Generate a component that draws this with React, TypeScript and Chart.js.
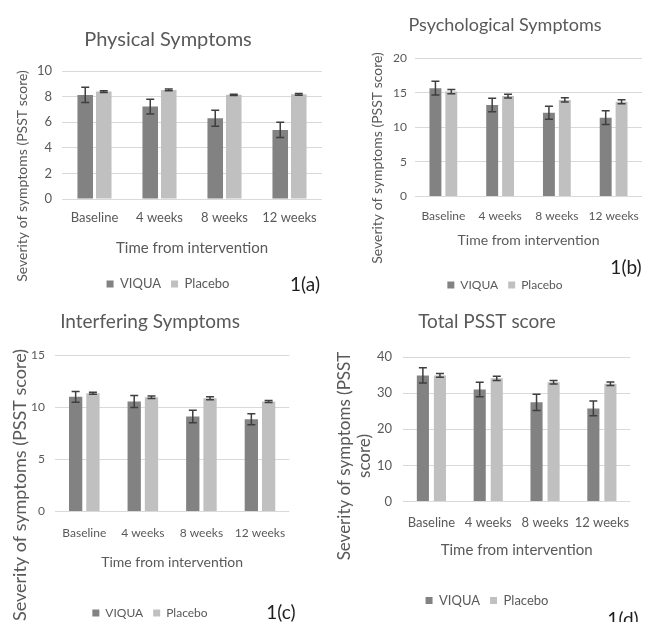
import { useEffect, useRef } from "react";
import { Chart, registerables } from "chart.js";

Chart.register(...registerables);

// ---------- data ----------
const categories = ["Baseline", "4 weeks", "8 weeks", "12 weeks"];
const seriesNames = ["VIQUA", "Placebo"];

const physicalViqua = [8.13, 7.22, 6.31, 5.4];
const physicalViquaErr = [0.6, 0.58, 0.62, 0.6];
const physicalPlacebo = [8.39, 8.52, 8.14, 8.18];
const physicalPlaceboErr = [0.06, 0.07, 0.05, 0.07];
const physicalTicks = [0, 2, 4, 6, 8, 10];

const psychViqua = [15.64, 13.2, 12.1, 11.38];
const psychViquaErr = [1.0, 0.97, 0.95, 1.0];
const psychPlacebo = [15.15, 14.5, 13.95, 13.68];
const psychPlaceboErr = [0.3, 0.28, 0.3, 0.3];
const psychTicks = [0, 5, 10, 15, 20];

const interfViqua = [10.99, 10.55, 9.1, 8.85];
const interfViquaErr = [0.52, 0.58, 0.6, 0.53];
const interfPlacebo = [11.33, 10.95, 10.85, 10.55];
const interfPlaceboErr = [0.1, 0.12, 0.14, 0.1];
const interfTicks = [0, 5, 10, 15];

const totalViqua = [34.9, 30.98, 27.44, 25.77];
const totalViquaErr = [2.1, 2.0, 2.25, 2.05];
const totalPlacebo = [34.9, 34.1, 33.0, 32.6];
const totalPlaceboErr = [0.5, 0.6, 0.5, 0.5];
const totalTicks = [0, 10, 20, 30, 40];

const titles = ["Physical Symptoms", "Psychological Symptoms", "Interfering Symptoms", "Total PSST score"];
const tags = ["1(a)", "1(b)", "1(c)", "1(d)"];
const yTitleOneLine = ["Severity of symptoms (PSST score)"];
const yTitleTwoLines = ["Severity of symptoms (PSST", "score)"];
const xTitleText = "Time from intervention";

// ---------- style ----------
const FONT = "Lato";
const TEXT = "#595959";
const VIQUA_COLOR = "#828282";
const PLACEBO_COLOR = "#c0c0c0";
const GRID = "#d9d9d9";
const ERR = "#3f3f3f";

Chart.defaults.font.family = FONT;
Chart.defaults.color = TEXT;

const errorBarPlugin = {
  id: "errorBars",
  afterDatasetsDraw(chart: any) {
    const { ctx } = chart;
    const yScale = chart.scales.y;
    chart.data.datasets.forEach((ds: any, i: number) => {
      const meta = chart.getDatasetMeta(i);
      if (!meta || meta.hidden) return;
      meta.data.forEach((bar: any, j: number) => {
        const v = ds.data[j];
        const e = ds.errors[j];
        const top = yScale.getPixelForValue(v + e);
        const bot = yScale.getPixelForValue(v - e);
        const x = bar.x;
        const cap = 4;
        ctx.save();
        ctx.strokeStyle = ERR;
        ctx.lineWidth = 1.5;
        ctx.beginPath();
        ctx.moveTo(x, top);
        ctx.lineTo(x, bot);
        ctx.moveTo(x - cap, top);
        ctx.lineTo(x + cap, top);
        ctx.moveTo(x - cap, bot);
        ctx.lineTo(x + cap, bot);
        ctx.stroke();
        ctx.restore();
      });
    });
  },
};

// panel tag ("1(a)") and rotated y-axis title, drawn as real canvas text
const panelTextPlugin = {
  id: "panelText",
  afterDraw(chart: any, _args: any, opts: any) {
    if (!opts) return;
    const { ctx } = chart;
    ctx.save();
    ctx.font = `${opts.tagSize}px ${FONT}`;
    ctx.fillStyle = "#1e1e1e";
    ctx.textAlign = "center";
    ctx.textBaseline = "middle";
    ctx.fillText(opts.tag, opts.tagX, opts.tagY);
    ctx.restore();

    const lines: string[] = opts.yTitle;
    ctx.save();
    ctx.font = `${opts.yTitleSize}px ${FONT}`;
    ctx.fillStyle = TEXT;
    ctx.textAlign = "center";
    ctx.textBaseline = "middle";
    lines.forEach((line, i) => {
      ctx.save();
      ctx.translate(opts.yTitleX + i * opts.yTitleSize * 1.15, opts.yTitleY);
      ctx.rotate(-Math.PI / 2);
      ctx.fillText(line, 0, 0);
      ctx.restore();
    });
    ctx.restore();
  },
};

type Panel = {
  left: number;
  top: number;
  width: number;
  height: number;
  title: string;
  titleSize: number;
  titlePad: { top: number; bottom: number };
  viqua: number[];
  viquaErr: number[];
  placebo: number[];
  placeboErr: number[];
  ticks: number[];
  yTitle: string[];
  yTitleSize: number;
  yTitleX: number;
  yTitleY: number;
  yWidth: number;
  yTickPad: number;
  rightWidth: number;
  xHeight: number;
  xTickPad: number;
  xTitleSize: number;
  xTitlePadBottom: number;
  tickSize: number;
  legendSize: number;
  padBottom: number;
  catPct: number;
  barPct: number;
  tag: string;
  tagX: number;
  tagY: number;
};

const panels: Panel[] = [
  {
    left: 0, top: 0, width: 336, height: 310,
    title: titles[0], titleSize: 20, titlePad: { top: 28, bottom: 19 },
    viqua: physicalViqua, viquaErr: physicalViquaErr, placebo: physicalPlacebo, placeboErr: physicalPlaceboErr,
    ticks: physicalTicks,
    yTitle: yTitleOneLine, yTitleSize: 14, yTitleX: 22, yTitleY: 176, yWidth: 62, yTickPad: 10, rightWidth: 14,
    xHeight: 68.5, xTickPad: 11, xTitleSize: 15, xTitlePadBottom: 10.5,
    tickSize: 13, legendSize: 13, padBottom: 9.5, catPct: 0.57, barPct: 0.84,
    tag: tags[0], tagX: 305, tagY: 285,
  },
  {
    left: 330, top: 0, width: 350, height: 310,
    title: titles[1], titleSize: 18, titlePad: { top: 14.2, bottom: 22.2 },
    viqua: psychViqua, viquaErr: psychViquaErr, placebo: psychPlacebo, placeboErr: psychPlaceboErr,
    ticks: psychTicks,
    yTitle: yTitleOneLine, yTitleSize: 14, yTitleX: 47, yTitleY: 158, yWidth: 85, yTickPad: 8, rightWidth: 38,
    xHeight: 72.5, xTickPad: 12, xTitleSize: 14, xTitlePadBottom: 20.1,
    tickSize: 12, legendSize: 12, padBottom: 9, catPct: 0.56, barPct: 0.75,
    tag: tags[1], tagX: 296, tagY: 268,
  },
  {
    left: 0, top: 310, width: 300, height: 330,
    title: titles[2], titleSize: 19, titlePad: { top: 0.6, bottom: 21.6 },
    viqua: interfViqua, viquaErr: interfViquaErr, placebo: interfPlacebo, placeboErr: interfPlaceboErr,
    ticks: interfTicks,
    yTitle: yTitleOneLine, yTitleSize: 18, yTitleX: 20, yTitleY: 175, yWidth: 55, yTickPad: 10, rightWidth: 7,
    xHeight: 85.5, xTickPad: 14, xTitleSize: 14, xTitlePadBottom: 26.1,
    tickSize: 12, legendSize: 12, padBottom: 11, catPct: 0.59, barPct: 0.77,
    tag: tags[2], tagX: 281, tagY: 303,
  },
  {
    left: 330, top: 310, width: 314, height: 330,
    title: titles[3], titleSize: 19, titlePad: { top: 0.6, bottom: 23.6 },
    viqua: totalViqua, viquaErr: totalViquaErr, placebo: totalPlacebo, placeboErr: totalPlaceboErr,
    ticks: totalTicks,
    yTitle: yTitleTwoLines, yTitleSize: 17, yTitleX: 15, yTitleY: 146, yWidth: 73, yTickPad: 11, rightWidth: 7,
    xHeight: 82.5, xTickPad: 14, xTitleSize: 15, xTitlePadBottom: 24.5,
    tickSize: 13, legendSize: 13, padBottom: 23, catPct: 0.6, barPct: 0.71,
    tag: tags[3], tagX: 293, tagY: 310,
  },
];

function PanelChart({ p }: { p: Panel }) {
  const ref = useRef<HTMLCanvasElement | null>(null);
  useEffect(() => {
    if (!ref.current) return;
    const tickStep = p.ticks[1] - p.ticks[0];
    const chart = new Chart(ref.current, {
      type: "bar",
      data: {
        labels: categories,
        datasets: [
          {
            label: seriesNames[0],
            data: p.viqua,
            errors: p.viquaErr,
            backgroundColor: VIQUA_COLOR,
            borderColor: VIQUA_COLOR,
            borderWidth: 0,
            categoryPercentage: p.catPct,
            barPercentage: p.barPct,
          } as any,
          {
            label: seriesNames[1],
            data: p.placebo,
            errors: p.placeboErr,
            backgroundColor: PLACEBO_COLOR,
            borderColor: PLACEBO_COLOR,
            borderWidth: 0,
            categoryPercentage: p.catPct,
            barPercentage: p.barPct,
          } as any,
        ],
      },
      options: {
        responsive: false,
        animation: false,
        events: [],
        layout: { padding: { left: 0, right: 0, top: 0, bottom: p.padBottom } },
        plugins: {
          title: {
            display: true,
            text: p.title,
            color: TEXT,
            font: { family: FONT, size: p.titleSize, weight: "normal" as any },
            padding: p.titlePad,
          },
          legend: {
            display: true,
            position: "bottom",
            labels: {
              boxWidth: 7,
              boxHeight: 7,
              padding: 10,
              color: TEXT,
              font: { family: FONT, size: p.legendSize },
            },
          },
          tooltip: { enabled: false },
          panelText: {
            tag: p.tag, tagX: p.tagX, tagY: p.tagY, tagSize: 19,
            yTitle: p.yTitle, yTitleSize: p.yTitleSize, yTitleX: p.yTitleX, yTitleY: p.yTitleY,
          },
        } as any,
        scales: {
          x: {
            grid: { display: false, drawTicks: false },
            border: { display: false },
            ticks: { color: TEXT, font: { family: FONT, size: p.tickSize }, padding: p.xTickPad, maxRotation: 0 },
            title: {
              display: true,
              text: xTitleText,
              color: TEXT,
              font: { family: FONT, size: p.xTitleSize },
              padding: { top: 0, bottom: p.xTitlePadBottom },
            },
            afterFit: (s: any) => {
              s.height = p.xHeight;
            },
          },
          y: {
            min: p.ticks[0],
            max: p.ticks[p.ticks.length - 1],
            grid: { color: GRID, lineWidth: 1, drawTicks: false },
            border: { display: false },
            ticks: { stepSize: tickStep, color: TEXT, font: { family: FONT, size: p.tickSize }, padding: p.yTickPad },
            afterFit: (s: any) => {
              s.width = p.yWidth;
            },
          },
          y2: {
            type: "linear",
            position: "right",
            display: true,
            grid: { display: false, drawTicks: false },
            border: { display: false },
            ticks: { display: false },
            afterFit: (s: any) => {
              s.width = p.rightWidth;
            },
          },
        } as any,
      },
      plugins: [errorBarPlugin, panelTextPlugin],
    });
    return () => chart.destroy();
  }, [p]);
  return (
    <canvas
      ref={ref}
      width={p.width}
      height={p.height}
      style={{ position: "absolute", left: p.left, top: p.top, width: p.width, height: p.height }}
    />
  );
}

export default function App() {
  return (
    <div
      style={{
        position: "absolute",
        left: 0,
        top: 0,
        width: 648,
        height: 622,
        overflow: "hidden",
        background: "#ffffff",
      }}
    >
      {panels.map((p, i) => (
        <PanelChart key={i} p={p} />
      ))}
    </div>
  );
}
